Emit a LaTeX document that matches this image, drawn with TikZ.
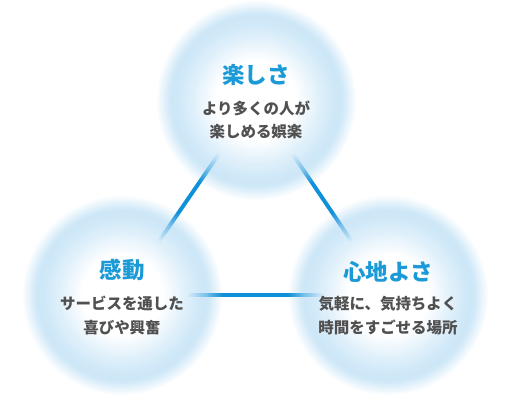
\documentclass[tikz,border=0pt]{standalone}
\usepackage{fontspec}
\setmainfont{Noto Sans CJK JP}
\usepackage{xcolor}
\usepackage{tikz}
\usetikzlibrary{fadings,positioning,calc}
\definecolor{vlblue}{HTML}{0E90DA}
\definecolor{vltitle}{HTML}{1B9AD8}
\definecolor{vlhalo}{HTML}{A9D6F2}
\definecolor{vltext}{HTML}{505050}
\pgfdeclareradialshading{halo}{\pgfpoint{0bp}{0bp}}{%
  color(0bp)=(white); color(10bp)=(white); color(17bp)=(vlhalo!45);
  color(22bp)=(vlhalo); color(50bp)=(vlhalo)}
% soft rim: opaque inside, fading out over the outer third
\pgfdeclareradialshading{halorim}{\pgfpointorigin}{%
  color(0bp)=(pgftransparent!0); color(16bp)=(pgftransparent!0);
  color(21bp)=(pgftransparent!35); color(25bp)=(pgftransparent!100);
  color(50bp)=(pgftransparent!100)}
\pgfdeclarefading{halofade}{\pgfuseshading{halorim}}
\tikzset{
  bubble/.style={circle,minimum size=5.0cm,inner sep=0pt,shading=halo,
                 path fading=halofade},
  ttl/.style={font=\fontsize{16}{19}\selectfont\bfseries,text=vltitle},
  sub/.style={font=\fontsize{11}{17}\selectfont\bfseries,text=vltext,align=center},
  link/.style={line width=2.8pt,draw=vlblue},
}

\begin{document}
\begin{tikzpicture}
  \useasboundingbox (0,0) rectangle (12.8,10.4);
  \coordinate (fun) at (6.4,7.9);
  \coordinate (joy) at (3.05,3.025);
  \coordinate (ease) at (9.7,3.025);
  \draw[link] (fun) -- (joy);
  \draw[link] (fun) -- (ease);
  \draw[link] (joy) -- (ease);
  \foreach \c in {fun,joy,ease}{
     \node[bubble] (b-\c) at (\c) {};
  }
  \node[ttl] (t-fun) at ($(b-fun.center)+(0,0.62)$) {楽しさ};
  \node[sub] (s-fun) at ($(b-fun.center)+(0,-0.5)$) {より多くの人が\\楽しめる娯楽};
  \node[ttl] (t-joy) at ($(b-joy.center)+(0,0.62)$) {感動};
  \node[sub] (s-joy) at ($(b-joy.center)+(0,-0.52)$) {サービスを通した\\喜びや興奮};
  \node[ttl] (t-ease) at ($(b-ease.center)+(0,0.58)$) {心地よさ};
  \node[sub] (s-ease) at ($(b-ease.center)+(0,-0.52)$) {気軽に、気持ちよく\\時間をすごせる場所};
\end{tikzpicture}
\end{document}
